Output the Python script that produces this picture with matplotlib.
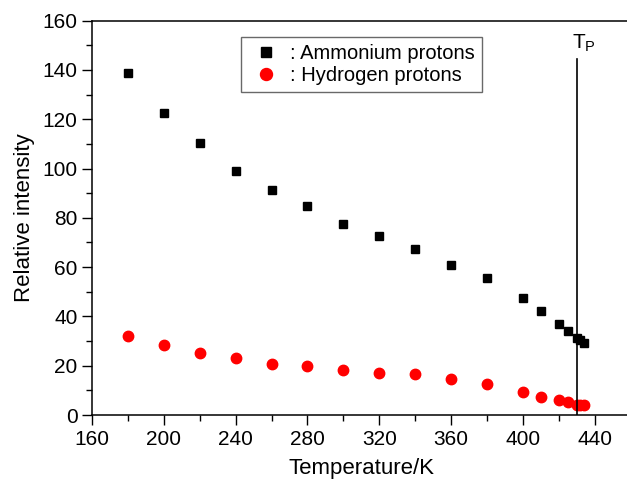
import matplotlib
matplotlib.use("Agg")
import matplotlib.pyplot as plt
from matplotlib.ticker import MultipleLocator

plt.rcParams["font.family"] = ["Liberation Sans", "DejaVu Sans"]

# temperatures (K)
temp = [180, 200, 220, 240, 260, 280, 300, 320, 340, 360, 380, 400, 410, 420, 425, 430, 432, 434]
# relative intensities
ammonium = [138.8, 122.6, 110.4, 99.0, 91.2, 84.8, 77.6, 72.7, 67.3, 60.7, 55.6, 47.3, 42.4, 36.9, 34.0, 31.1, 30.3, 29.2]
hydrogen = [32.2, 28.6, 25.3, 23.1, 20.8, 19.8, 18.2, 17.0, 16.6, 14.6, 12.6, 9.2, 7.3, 6.0, 5.4, 3.9, 4.1, 4.1]

tp = 430
tp_top = 144.5

fig = plt.figure(figsize=(6.27, 4.80), dpi=100)
ax = fig.add_axes([0.1467, 0.1354, 0.859, 0.8215])

ax.plot(temp, ammonium, "s", color="black", markersize=6, linestyle="none",
        label=": Ammonium protons")
ax.plot(temp, hydrogen, "o", color="red", markersize=7.5, linestyle="none",
        label=": Hydrogen protons")

ax.plot([tp, tp], [0, tp_top], color="black", linewidth=1.2)
ax.text(tp - 2.5, tp_top + 2, r"$\mathregular{T_P}$", fontsize=15, ha="left", va="bottom")

ax.set_xlim(160, 460)
ax.set_ylim(0, 160)
ax.xaxis.set_major_locator(MultipleLocator(40))
ax.xaxis.set_minor_locator(MultipleLocator(20))
ax.yaxis.set_major_locator(MultipleLocator(20))
ax.yaxis.set_minor_locator(MultipleLocator(10))
ax.tick_params(which="major", direction="out", length=7, width=1, labelsize=15, top=False, right=False)
ax.tick_params(which="minor", direction="out", length=4, width=1, top=False, right=False)
for s in ax.spines.values():
    s.set_linewidth(1.1)

ax.set_xlabel("Temperature/K", fontsize=16, labelpad=7)
ax.set_ylabel("Relative intensity", fontsize=16, labelpad=5)

leg = ax.legend(loc="upper left", bbox_to_anchor=(0.276, 0.959), borderaxespad=0,
                fontsize=14.5, frameon=True, fancybox=False, edgecolor="#444444",
                handletextpad=0.3, borderpad=0.35, labelspacing=0.15,
                handlelength=1.8, markerscale=1.15)
leg.get_frame().set_linewidth(1.0)

fig.savefig("out.png", dpi=100)
